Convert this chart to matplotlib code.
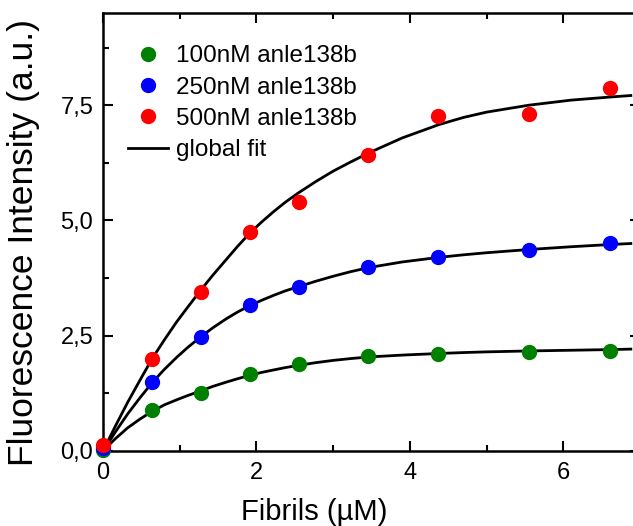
import numpy as np
import matplotlib
matplotlib.use('Agg')
import matplotlib.pyplot as plt
from matplotlib.ticker import MultipleLocator, FuncFormatter

plt.rcParams['font.family'] = ['Liberation Sans', 'DejaVu Sans']

# measured points (fibril concentration in uM)
fibrils = [0, 0.64, 1.28, 1.92, 2.55, 3.46, 4.37, 5.55, 6.61]
y_100nM = [0.03, 0.88, 1.26, 1.66, 1.88, 2.06, 2.10, 2.15, 2.17]
y_250nM = [0.06, 1.49, 2.47, 3.16, 3.56, 4.00, 4.20, 4.36, 4.52]
y_500nM = [0.12, 1.99, 3.45, 4.74, 5.41, 6.42, 7.26, 7.30, 7.88]

# global fit curves
fit_x = [0, 0.16, 0.32, 0.48, 0.64, 0.8, 0.96, 1.1, 1.27, 1.43, 1.6, 1.75,
         1.91, 2.07, 2.23, 2.38, 2.54, 2.77, 3.0, 3.23, 3.47, 3.9, 4.38, 4.7,
         5.0, 5.55, 6.1, 6.63, 6.88]
fit_100nM = [0, 0.265, 0.50, 0.69, 0.86, 1.00, 1.11, 1.20, 1.30, 1.40, 1.49,
             1.565, 1.64, 1.705, 1.76, 1.81, 1.855, 1.915, 1.965, 2.005,
             2.04, 2.08, 2.115, 2.135, 2.15, 2.17, 2.185, 2.20, 2.21]
fit_250nM = [0, 0.41, 0.80, 1.15, 1.48, 1.77, 2.03, 2.24, 2.47, 2.67, 2.86,
             3.01, 3.15, 3.27, 3.38, 3.475, 3.56, 3.68, 3.79, 3.89, 3.98,
             4.10, 4.20, 4.255, 4.30, 4.37, 4.43, 4.48, 4.50]
fit_500nM = [0, 0.535, 1.05, 1.53, 2.00, 2.41, 2.80, 3.11, 3.48, 3.81, 4.14,
             4.43, 4.72, 4.97, 5.20, 5.40, 5.59, 5.84, 6.07, 6.27, 6.47,
             6.79, 7.08, 7.235, 7.35, 7.50, 7.61, 7.68, 7.71]

labels = ['100nM anle138b', '250nM anle138b', '500nM anle138b']
colors = ['#008000', '#0000ff', '#ff0000']

fig = plt.figure(figsize=(6.33, 5.26), dpi=100)
ax = fig.add_axes([0.1627, 0.1426, 0.8484, 0.8327])

# fit lines first, data points on top
for fy in [fit_100nM, fit_250nM, fit_500nM]:
    ax.plot(fit_x, fy, color='black', linewidth=2.0, zorder=2)

for ys, lab, c in zip([y_100nM, y_250nM, y_500nM], labels, colors):
    ax.plot(fibrils, ys, 'o', color=c, markersize=10, label=lab, zorder=3,
            clip_on=False)
ax.plot([], [], color='black', linewidth=2.0, label='global fit')

ax.set_xlim(0, 7)
ax.set_ylim(0, 9.5)
ax.xaxis.set_major_locator(MultipleLocator(2))
ax.xaxis.set_minor_locator(MultipleLocator(1))
ax.yaxis.set_major_locator(MultipleLocator(2.5))
ax.yaxis.set_minor_locator(MultipleLocator(1.25))
# decimal comma on the y axis
ax.yaxis.set_major_formatter(FuncFormatter(lambda v, p: ('%.1f' % v).replace('.', ',')))

ax.tick_params(which='both', direction='in', top=True, right=True, width=1.5,
               labelsize=17)
ax.tick_params(which='major', length=7)
ax.tick_params(which='minor', length=4)
ax.tick_params(axis='x', pad=8)
ax.tick_params(axis='y', pad=7)
for sp in ax.spines.values():
    sp.set_linewidth(1.8)

ax.set_xlabel('Fibrils (µM)', fontsize=21)
ax.xaxis.set_label_coords(0.393, -0.107)
ax.set_ylabel('Fluorescence Intensity (a.u.)', fontsize=25.5)
ax.yaxis.set_label_coords(-0.117, 0.475)

ax.legend(loc='upper left', bbox_to_anchor=(0.046, 0.926), frameon=False,
          fontsize=17.5, borderpad=0, borderaxespad=0, handlelength=1.65,
          handletextpad=0.33, labelspacing=0.38)

fig.savefig('out.png', dpi=100)
